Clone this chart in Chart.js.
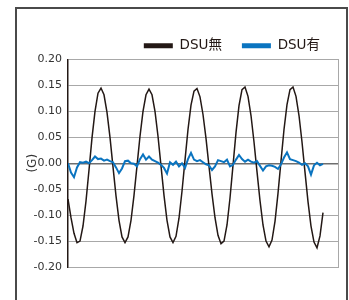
<!DOCTYPE html>
<html>
<head>
<meta charset="utf-8">
<script src="https://cdn.jsdelivr.net/npm/chart.js@4.4.0/dist/chart.umd.min.js"></script>
<style>
    html, body { margin: 0; padding: 0; background: #fff; }
    #contenedor { position: relative; width: 349px; height: 300px; overflow: hidden; }
    #marco { position: absolute; left: 15px; top: 7px; width: 333px; height: 320px; border: 2px solid #4a4a4a; box-sizing: border-box; pointer-events: none; }
    canvas { position: absolute; left: 0; top: 0; }
</style>
</head>
<body>
<div id="contenedor">
    <canvas id="grafica" width="349" height="300"></canvas>
    <div id="marco"></div>
</div>
<script>
// Series (una muestra cada 3 unidades de tiempo)
const paso = 3;
const nombres = ['DSU無', 'DSU有'];
const sinDSU = [
    -0.069, -0.105, -0.135, -0.153, -0.150, -0.121, -0.073, -0.013, 0.049, 0.100,
    0.135, 0.145, 0.132, 0.098, 0.050, -0.007, -0.063, -0.110, -0.142, -0.153,
    -0.142, -0.110, -0.062, -0.005, 0.052, 0.100, 0.132, 0.143, 0.132, 0.100,
    0.052, -0.005, -0.062, -0.110, -0.142, -0.153, -0.141, -0.106, -0.054, 0.006,
    0.065, 0.112, 0.139, 0.144, 0.128, 0.094, 0.048, -0.006, -0.059, -0.105,
    -0.139, -0.155, -0.150, -0.119, -0.067, -0.004, 0.059, 0.111, 0.142, 0.147,
    0.129, 0.092, 0.041, -0.016, -0.072, -0.119, -0.150, -0.161, -0.148, -0.112,
    -0.058, 0.004, 0.065, 0.113, 0.142, 0.147, 0.129, 0.092, 0.041, -0.017,
    -0.074, -0.121, -0.152, -0.163, -0.140, -0.095
];
const conDSU = [
    0.000, -0.018, -0.027, -0.008, 0.002, 0.001, 0.003, 0.000, 0.006, 0.013,
    0.008, 0.009, 0.005, 0.007, 0.004, 0.002, -0.008, -0.019, -0.010, 0.004,
    0.005, 0.000, -0.001, -0.006, 0.008, 0.017, 0.007, 0.013, 0.007, 0.004,
    0.001, -0.003, -0.009, -0.020, 0.002, -0.003, 0.003, -0.006, 0.000, -0.009,
    0.008, 0.020, 0.007, 0.004, 0.006, 0.002, -0.002, -0.004, -0.013, -0.006,
    0.006, 0.004, 0.002, 0.007, -0.006, -0.003, 0.007, 0.016, 0.008, 0.003,
    0.007, 0.003, 0.001, 0.004, -0.005, -0.014, -0.006, -0.004, -0.005, -0.007,
    -0.011, -0.002, 0.011, 0.021, 0.008, 0.006, 0.004, 0.001, -0.003, 0.000,
    -0.006, -0.022, -0.004, 0.001, -0.004, -0.001
];
const ticksY = [-0.20, -0.15, -0.10, -0.05, 0.00, 0.05, 0.10, 0.15, 0.20];
const colores = ['#231815', '#0a74c0'];

const fuente = 'DejaVu Sans, Liberation Sans, Noto Sans CJK JP, sans-serif';

function aPuntos(serie) {
    return serie.map((v, i) => ({ x: i * paso, y: v }));
}

// Ajusta un poco la posición de la leyenda sin mover el área del gráfico
const moverLeyenda = {
    id: 'moverLeyenda',
    afterLayout(c) {
        if (c.legend) {
            c.legend.top += 3;
            c.legend.bottom += 3;
            c.legend.left += 2;
            c.legend.right += 2;
        }
    }
};

const ctx = document.getElementById('grafica').getContext('2d');

const chart = new Chart(ctx, {
    type: 'line',
    data: {
        datasets: [
            {
                label: nombres[0],
                data: aPuntos(sinDSU),
                borderColor: colores[0],
                backgroundColor: colores[0],
                borderWidth: 1.5,
                pointRadius: 0,
                tension: 0,
                order: 2
            },
            {
                label: nombres[1],
                data: aPuntos(conDSU),
                borderColor: colores[1],
                backgroundColor: colores[1],
                borderWidth: 2,
                pointRadius: 0,
                tension: 0,
                order: 1
            }
        ]
    },
    plugins: [moverLeyenda],
    options: {
        responsive: false,
        animation: false,
        layout: { padding: { left: 16, right: 11, top: 16, bottom: 33 } },
        plugins: {
            tooltip: { enabled: false },
            legend: {
                position: 'top',
                align: 'end',
                fullSize: false,
                labels: {
                    boxWidth: 29,
                    boxHeight: 5,
                    padding: 20,
                    color: '#231815',
                    font: { family: fuente, size: 13.5 },
                    generateLabels: function (c) {
                        return c.data.datasets.map((ds, i) => ({
                            text: ds.label,
                            fillStyle: ds.borderColor,
                            strokeStyle: ds.borderColor,
                            lineWidth: 0,
                            fontColor: '#231815',
                            hidden: false,
                            datasetIndex: i
                        }));
                    }
                }
            }
        },
        scales: {
            x: { type: 'linear', min: 0, max: 270, display: false },
            y: {
                min: -0.2,
                max: 0.2,
                afterBuildTicks: s => { s.ticks = ticksY.map(v => ({ value: v })); },
                afterFit: s => { s.width = 52; },
                ticks: {
                    callback: v => v.toFixed(2),
                    padding: 6,
                    color: '#333',
                    font: { family: fuente, size: 11 }
                },
                grid: {
                    drawTicks: false,
                    color: c => (Math.abs(c.tick.value) < 1e-9 ? '#6e6e6e' : '#a8a8a8'),
                    lineWidth: c => (Math.abs(c.tick.value) < 1e-9 ? 1.5 : 1)
                },
                border: { color: '#231815', width: 1.5 },
                title: {
                    display: true,
                    text: '(G)',
                    color: '#333',
                    font: { family: fuente, size: 12 },
                    padding: { top: 10, bottom: 0 }
                }
            },
            y2: {
                position: 'right',
                min: -0.2,
                max: 0.2,
                afterFit: s => { s.width = 0; },
                ticks: { display: false },
                grid: { display: false, drawTicks: false },
                border: { color: '#a8a8a8', width: 1 }
            }
        }
    }
});
</script>
</body>
</html>
